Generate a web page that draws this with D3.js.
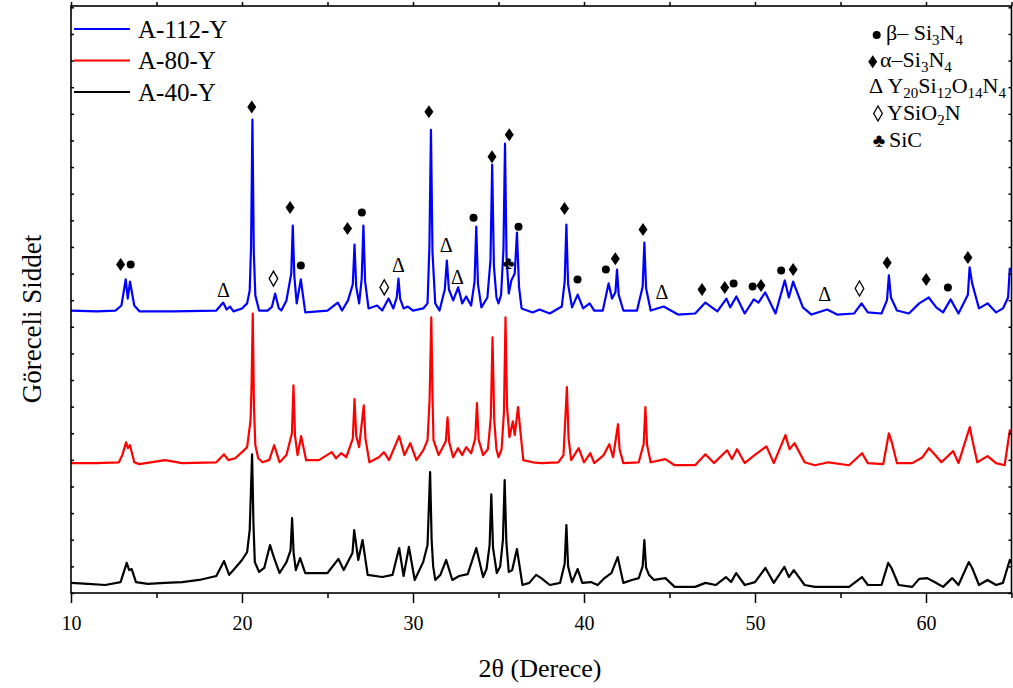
<!DOCTYPE html>
<html><head><meta charset="utf-8">
<script src="https://cdn.jsdelivr.net/npm/d3@7"></script>
<style>
html,body{margin:0;padding:0;background:#fff;}
svg{display:block;}
text{font-family:"Liberation Serif","Times New Roman",serif;}
</style></head>
<body>
<svg id="chart" width="1013" height="688"></svg>
<script>
// ---- data (2θ in degrees, intensity in a.u.) ----
const seriesNames = ["A-112-Y", "A-80-Y", "A-40-Y"];
const seriesColors = ["#0000ff", "#ff0000", "#000000"];

const traceA112Y = [
[10.0,1061],[11.5,1058],[12.6,1061],[12.95,1080],[13.2,1178],[13.32,1106],[13.45,1170],[13.7,1080],[14.0,1058],[16.0,1058],[18.5,1061],[18.9,1091],[19.1,1065],[19.3,1076],[19.5,1058],[20.0,1069],[20.3,1088],[20.45,1136],[20.53,1300],[20.61,1778],[20.69,1280],[20.78,1118],[21.0,1061],[21.5,1061],[21.75,1075],[21.94,1125],[22.15,1070],[22.3,1061],[22.6,1099],[22.88,1200],[22.97,1380],[23.06,1190],[23.2,1088],[23.44,1178],[23.7,1054],[25.0,1061],[25.6,1091],[25.85,1061],[26.2,1099],[26.48,1160],[26.58,1309],[26.68,1150],[26.85,1088],[27.0,1180],[27.1,1380],[27.2,1170],[27.4,1069],[27.9,1080],[28.2,1061],[28.57,1106],[28.85,1069],[29.05,1110],[29.15,1181],[29.25,1105],[29.45,1069],[29.7,1076],[30.0,1061],[30.6,1069],[30.85,1088],[30.96,1300],[31.05,1740],[31.14,1280],[31.3,1088],[31.55,1061],[31.86,1140],[31.98,1249],[32.1,1140],[32.35,1099],[32.64,1148],[32.88,1088],[33.11,1114],[33.4,1080],[33.6,1170],[33.7,1376],[33.8,1160],[34.0,1073],[34.35,1110],[34.53,1250],[34.63,1609],[34.73,1230],[34.88,1110],[35.0,1088],[35.15,1120],[35.29,1290],[35.38,1688],[35.47,1260],[35.6,1125],[35.75,1174],[35.95,1200],[36.08,1354],[36.2,1150],[36.35,1069],[37.0,1054],[37.4,1065],[38.0,1050],[38.7,1076],[38.87,1170],[38.97,1384],[39.07,1160],[39.3,1073],[39.63,1121],[39.95,1069],[40.33,1088],[40.6,1061],[41.1,1061],[41.44,1163],[41.64,1106],[41.84,1130],[41.93,1215],[42.03,1120],[42.3,1061],[43.1,1061],[43.43,1150],[43.53,1316],[43.63,1145],[43.9,1061],[44.66,1076],[45.5,1046],[46.5,1050],[47.1,1091],[47.8,1058],[48.33,1106],[48.55,1073],[48.91,1114],[49.4,1050],[49.93,1103],[50.2,1091],[50.6,1129],[51.2,1050],[51.74,1174],[51.98,1110],[52.23,1170],[52.8,1073],[53.3,1046],[54.22,1065],[54.8,1046],[55.8,1050],[56.23,1088],[56.6,1054],[57.4,1050],[57.72,1100],[57.83,1193],[57.95,1110],[58.3,1061],[59.0,1050],[59.6,1088],[60.16,1110],[60.6,1073],[61.0,1054],[61.44,1103],[61.9,1050],[62.45,1120],[62.55,1223],[62.7,1163],[63.1,1069],[63.6,1088],[64.1,1054],[64.5,1069],[64.8,1110],[64.9,1219],[65.0,1211]
];

const traceA80Y = [
[10.0,488],[11.5,488],[12.8,491],[13.0,518],[13.22,566],[13.33,544],[13.45,555],[13.7,491],[14.0,484],[15.5,499],[16.5,488],[18.5,491],[18.95,521],[19.2,499],[19.6,506],[20.0,529],[20.3,548],[20.5,649],[20.56,780],[20.63,1050],[20.7,700],[20.78,555],[20.95,506],[21.2,491],[21.6,500],[21.88,555],[22.2,491],[22.6,518],[22.92,600],[23.01,780],[23.1,590],[23.25,518],[23.46,589],[23.75,499],[24.5,499],[25.25,529],[25.5,506],[25.8,525],[26.1,510],[26.48,580],[26.58,728],[26.68,590],[26.85,548],[27.12,705],[27.22,580],[27.45,491],[28.0,510],[28.3,529],[28.6,499],[29.19,589],[29.5,518],[29.84,563],[30.2,499],[30.6,536],[30.85,574],[30.97,724],[31.07,1035],[31.14,740],[31.2,574],[31.5,518],[31.92,570],[32.02,660],[32.12,565],[32.35,510],[32.63,544],[32.88,518],[33.11,548],[33.4,525],[33.64,580],[33.74,713],[33.84,575],[34.1,518],[34.38,540],[34.55,660],[34.65,960],[34.75,650],[34.88,540],[35.0,510],[35.18,540],[35.32,680],[35.41,1035],[35.5,700],[35.64,585],[35.84,645],[35.95,593],[36.14,698],[36.45,499],[37.0,491],[37.5,488],[38.5,491],[38.8,518],[39.0,773],[39.1,580],[39.25,499],[39.69,544],[40.0,491],[40.37,525],[40.6,488],[41.15,518],[41.48,559],[41.7,510],[41.99,634],[42.08,540],[42.3,488],[43.2,491],[43.49,560],[43.59,698],[43.69,555],[43.9,491],[44.76,503],[45.3,480],[46.5,480],[47.1,521],[47.6,488],[48.37,536],[48.65,503],[48.95,540],[49.4,488],[49.9,514],[50.67,551],[51.1,488],[51.78,593],[52.02,540],[52.31,563],[52.9,491],[53.5,480],[54.3,491],[55.5,480],[56.26,525],[56.6,488],[57.5,484],[57.83,600],[58.0,566],[58.3,488],[59.2,488],[59.8,510],[60.17,544],[60.5,521],[60.9,491],[61.59,533],[61.9,488],[62.56,623],[62.7,578],[63.0,491],[63.6,514],[64.1,488],[64.6,480],[64.9,611],[65.0,604]
];

const traceA40Y = [
[10.0,38],[11.0,34],[12.0,30],[12.9,41],[13.26,113],[13.4,86],[13.55,90],[13.8,41],[14.5,34],[15.5,38],[16.5,41],[17.5,49],[18.5,64],[18.95,120],[19.25,68],[19.6,94],[20.0,124],[20.3,154],[20.45,236],[20.59,521],[20.67,260],[20.75,116],[21.0,79],[21.3,94],[21.64,180],[21.88,131],[22.2,75],[22.6,116],[22.84,160],[22.93,281],[23.02,150],[23.15,86],[23.4,131],[23.7,75],[25.0,75],[25.64,128],[25.95,86],[26.25,124],[26.46,150],[26.56,236],[26.8,124],[27.05,199],[27.35,68],[28.2,60],[28.8,68],[29.19,169],[29.45,64],[29.76,173],[30.1,49],[30.6,117],[30.85,180],[31.0,454],[31.09,200],[31.18,100],[31.3,49],[31.6,68],[31.94,124],[32.3,49],[32.7,64],[33.2,71],[33.7,169],[34.1,60],[34.3,90],[34.48,180],[34.58,371],[34.68,170],[34.9,75],[35.1,100],[35.26,200],[35.36,424],[35.46,190],[35.6,79],[35.8,86],[36.08,165],[36.4,30],[36.8,38],[37.2,68],[37.5,56],[38.0,30],[38.6,38],[38.87,110],[38.97,255],[39.07,100],[39.3,41],[39.63,90],[39.9,38],[40.4,41],[40.8,30],[41.2,56],[41.6,75],[41.97,135],[42.3,38],[42.8,49],[43.2,56],[43.43,100],[43.53,199],[43.63,95],[43.8,68],[44.1,49],[44.76,56],[45.3,23],[46.5,23],[47.1,38],[47.7,30],[48.3,60],[48.6,41],[48.9,75],[49.4,30],[50.0,41],[50.61,94],[51.1,38],[51.72,98],[51.98,60],[52.27,86],[52.9,30],[53.5,23],[55.5,23],[56.26,60],[56.6,30],[57.4,30],[57.79,113],[57.98,94],[58.4,30],[59.2,23],[59.6,53],[60.07,56],[60.5,41],[61.0,23],[61.53,56],[61.9,30],[62.5,116],[62.7,94],[63.1,30],[63.6,49],[64.1,30],[64.5,38],[64.9,124],[65.0,113]
];

// phase annotations [2θ, intensity position]
const betaSi3N4Marks = [[13.49,1234],[23.44,1230],[27.01,1429],[33.54,1410],[36.17,1376],[39.62,1178],[41.28,1215],[48.75,1163],[49.86,1151],[51.53,1211],[61.28,1148]];
const alphaSi3N4Marks = [[12.9,1234],[20.57,1826],[22.81,1448],[26.17,1369],[30.93,1808],[34.62,1639],[35.63,1721],[38.86,1444],[41.83,1256],[43.45,1365],[46.9,1140],[48.23,1148],[50.35,1155],[52.23,1215],[57.73,1241],[60.01,1178],[62.45,1260]];
const y20Marks = [[18.91,1136],[29.15,1230],[31.94,1305],[32.6,1185],[44.56,1129],[54.08,1121]];
const ysio2nMarks = [[21.84,1181],[28.32,1148],[56.11,1144]];
const sicMarks = [[35.59,1241]];

const xMajorTicks = [10,20,30,40,50,60];
const xMinorTicks = [15,25,35,45,55,65];
const xDomain = [10,65];
const yDomain = [0,2205];

// ---- layout ----
const svg = d3.select("#chart");
const L = 71, R = 1011.5, T = 6, B = 593;
const x = d3.scaleLinear().domain(xDomain).range([L,R]);
const y = d3.scaleLinear().domain(yDomain).range([B,T]);

const traces = [traceA112Y, traceA80Y, traceA40Y];
const line = d3.line().x(d=>x(d[0])).y(d=>y(d[1]));

svg.append("clipPath").attr("id","clip").append("rect")
  .attr("x",L).attr("y",T).attr("width",R-L).attr("height",B-T);

const g = svg.append("g").attr("clip-path","url(#clip)");
[2,1,0].forEach(i=>{
  g.append("path").datum(traces[i])
   .attr("d",line).attr("fill","none")
   .attr("stroke",seriesColors[i]).attr("stroke-width",2.2)
   .attr("stroke-linejoin","round");
});

// ---- axes ----
const yTicks = d3.range(0, yDomain[1], 100);
const axB = svg.append("g").attr("transform",`translate(0,${B})`)
  .call(d3.axisBottom(x).tickValues(xMajorTicks).tickSize(10).tickSizeOuter(0).tickFormat(d3.format("d")));
svg.append("g").attr("transform",`translate(0,${B})`)
  .call(d3.axisBottom(x).tickValues(xMinorTicks).tickSize(5).tickSizeOuter(0).tickFormat(""));
axB.selectAll("text").attr("font-family","'Liberation Sans',Arial,sans-serif").attr("font-size",20).attr("fill","#000").attr("dy","1.2em");
svg.append("g").attr("transform",`translate(0,${T})`)
  .call(d3.axisTop(x).tickValues(xMajorTicks.concat(xMinorTicks)).tickSize(4).tickSizeOuter(0).tickFormat(""));
svg.append("g").attr("transform",`translate(${L},0)`)
  .call(d3.axisRight(y).tickValues(yTicks).tickSize(3).tickSizeOuter(0).tickFormat(""));
svg.append("g").attr("transform",`translate(${R},0)`)
  .call(d3.axisLeft(y).tickValues(yTicks).tickSize(3).tickSizeOuter(0).tickFormat(""));
svg.selectAll(".domain").remove();
svg.selectAll(".tick line").attr("stroke","#000").attr("stroke-width",1.5);
svg.append("rect").attr("x",L).attr("y",T).attr("width",R-L).attr("height",B-T)
  .attr("fill","none").attr("stroke","#000").attr("stroke-width",1.6);

// ---- phase markers ----
const mk = svg.append("g");
mk.selectAll("circle.beta").data(betaSi3N4Marks).join("circle")
  .attr("cx",d=>x(d[0])).attr("cy",d=>y(d[1])).attr("r",4).attr("fill","#000");
const diamond = (cx,cy,w,h)=>`M${cx},${cy-h}L${cx+w},${cy}L${cx},${cy+h}L${cx-w},${cy}Z`;
mk.selectAll("path.alpha").data(alphaSi3N4Marks).join("path")
  .attr("d",d=>diamond(x(d[0]),y(d[1]),4.5,6.5)).attr("fill","#000");
mk.selectAll("path.ysio").data(ysio2nMarks).join("path")
  .attr("d",d=>diamond(x(d[0]),y(d[1]),4.3,7.5)).attr("fill","none").attr("stroke","#000").attr("stroke-width",1.3);
mk.selectAll("text.delta").data(y20Marks).join("text")
  .attr("x",d=>x(d[0])).attr("y",d=>y(d[1])+6.5).attr("text-anchor","middle")
  .attr("font-size",20).text("Δ");
mk.selectAll("text.club").data(sicMarks).join("text")
  .attr("x",d=>x(d[0])).attr("y",d=>y(d[1])+6).attr("text-anchor","middle")
  .attr("font-size",18).text("♣");

// ---- left legend ----
const lg = svg.append("g");
seriesNames.forEach((n,i)=>{
  const yy = 29 + i*31.5;
  lg.append("line").attr("x1",74).attr("x2",130).attr("y1",yy).attr("y2",yy)
    .attr("stroke",seriesColors[i]).attr("stroke-width",2.2);
  lg.append("text").attr("x",138).attr("y",yy+8.5).attr("font-size",25).text(n);
});

// ---- right legend (phases) ----
const rg = svg.append("g").attr("font-size",22);
function richText(xx,yy,parts){
  const t = rg.append("text").attr("x",xx).attr("y",yy);
  let shift = 0;
  parts.forEach(p=>{
    if(typeof p==="string"){ t.append("tspan").attr("dy",-shift).text(p); shift = 0; }
    else { t.append("tspan").attr("font-size",15).attr("dy",5 - shift).text(p.sub); shift = 5; }
  });
  return t;
}
rg.append("circle").attr("cx",876.7).attr("cy",35).attr("r",4).attr("fill","#000");
richText(886,40,["β– Si",{sub:"3"},"N",{sub:"4"}]);
rg.append("path").attr("d",diamond(872.7,61.7,4.5,6.5)).attr("fill","#000");
richText(880,67,["α–Si",{sub:"3"},"N",{sub:"4"}]);
richText(869,93,["Δ Y",{sub:"20"},"Si",{sub:"12"},"O",{sub:"14"},"N",{sub:"4"}]);
rg.append("path").attr("d",diamond(878,113.5,4.3,7.5)).attr("fill","none").attr("stroke","#000").attr("stroke-width",1.3);
richText(887,120,["YSiO",{sub:"2"},"N"]);
rg.append("text").attr("x",879).attr("y",147).attr("text-anchor","middle").attr("font-size",19).text("♣");
richText(889,147,["SiC"]);

// ---- axis titles ----
svg.append("text").attr("x",540).attr("y",677).attr("text-anchor","middle")
  .attr("font-size",26).text("2θ (Derece)");
svg.append("text").attr("transform","translate(41,319) rotate(-90)")
  .attr("text-anchor","middle").attr("font-size",27).text("Göreceli Siddet");
</script>
</body></html>
